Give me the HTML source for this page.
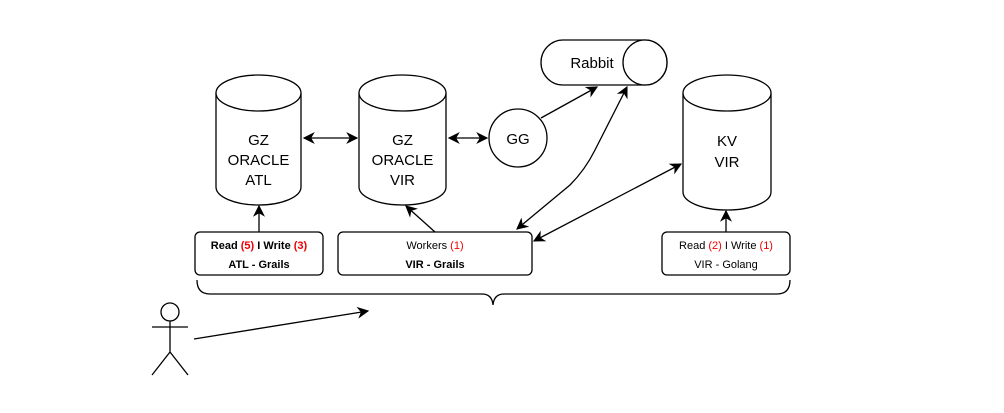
<!DOCTYPE html>
<html><head><meta charset="utf-8"><style>
html,body{margin:0;padding:0;background:#fff}
svg text{font-family:"Liberation Sans",Helvetica,sans-serif}
</style></head><body>
<svg width="1004" height="408" viewBox="0 0 1004 408" xmlns="http://www.w3.org/2000/svg">
<defs>
<marker id="a" viewBox="0 0 10 10" refX="9" refY="5" markerWidth="12" markerHeight="12" markerUnits="userSpaceOnUse" orient="auto-start-reverse">
<path d="M0,0 L10,5 L0,10 L3,5 Z" fill="#000"/></marker>
</defs>
<g fill="#fff" stroke="#000" stroke-width="1.3">
<path d="M216,93 L216,187 A42.5,18 0 0 0 301,187 L301,93"/>
<ellipse cx="258.5" cy="93" rx="42.5" ry="18"/>
<path d="M359,93 L359,187 A43.5,18 0 0 0 446,187 L446,93"/>
<ellipse cx="402.5" cy="93" rx="43.5" ry="18"/>
<path d="M683,93 L683,192 A44,18 0 0 0 771,192 L771,93"/>
<ellipse cx="727" cy="93" rx="44" ry="18"/>
<circle cx="518" cy="138" r="29"/>
<path d="M563,40 L645,40 A22,22.5 0 0 1 645,85 L563,85 A22,22.5 0 0 1 563,40 Z"/>
<ellipse cx="645" cy="62.5" rx="22" ry="22.5"/>
<rect x="195" y="232" width="128" height="43" rx="5"/>
<rect x="338" y="232" width="194" height="43" rx="5"/>
<rect x="662" y="232" width="128" height="43" rx="5"/>
</g>
<g fill="none" stroke="#000" stroke-width="1.3">
<path d="M197,280 Q197,294 210,294 L482,294 Q492,294 493,305 Q494,294 504,294 L777,294 Q790,294 790,280"/>
<circle cx="170" cy="312" r="9"/>
<path d="M170,321 L170,352 M152,327 L188,327 M170,352 L152,375 M170,352 L188,375"/>
<line x1="194" y1="339" x2="368" y2="311" marker-end="url(#a)"/>
<line x1="304" y1="138" x2="357" y2="138" marker-start="url(#a)" marker-end="url(#a)"/>
<line x1="449" y1="138" x2="487" y2="138" marker-start="url(#a)" marker-end="url(#a)"/>
<line x1="541" y1="118" x2="597" y2="87" marker-end="url(#a)"/>
<path d="M517,229 L570,185 Q585,170 595,150 L627,87" marker-start="url(#a)" marker-end="url(#a)"/>
<line x1="534" y1="241" x2="681" y2="164" marker-start="url(#a)" marker-end="url(#a)"/>
<line x1="435" y1="232" x2="406" y2="206" marker-end="url(#a)"/>
<line x1="259" y1="232" x2="259" y2="206" marker-end="url(#a)"/>
<line x1="726" y1="232" x2="726" y2="211" marker-end="url(#a)"/>
</g>
<g font-size="15" text-anchor="middle" fill="#000">
<text x="258.5" y="145">GZ</text><text x="258.5" y="165">ORACLE</text><text x="258.5" y="185">ATL</text>
<text x="402.5" y="145">GZ</text><text x="402.5" y="165">ORACLE</text><text x="402.5" y="185">VIR</text>
<text x="727" y="146">KV</text><text x="727" y="167">VIR</text>
<text x="518" y="144">GG</text>
<text x="592" y="68">Rabbit</text>
</g>
<g font-size="11" font-weight="bold" text-anchor="middle" fill="#000">
<text x="259" y="249">Read <tspan fill="#e00">(5)</tspan> I Write <tspan fill="#e00">(3)</tspan></text>
<text x="259" y="268">ATL - Grails</text>
<text x="435" y="249" font-weight="normal">Workers <tspan fill="#e00">(1)</tspan></text>
<text x="435" y="268">VIR - Grails</text>
<text x="726" y="249" font-weight="normal">Read <tspan fill="#e00">(2)</tspan> I Write <tspan fill="#e00">(1)</tspan></text>
<text x="726" y="268" font-weight="normal">VIR - Golang</text>
</g>
</svg>
</body></html>
